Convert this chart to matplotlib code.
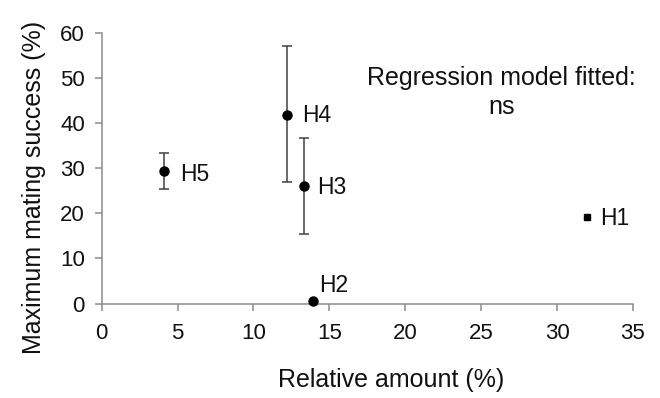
import numpy as np
import matplotlib.pyplot as plt

plt.rcParams['font.family'] = ['Liberation Sans', 'DejaVu Sans']

# data
names = ['H1', 'H2', 'H3', 'H4', 'H5']
rel_amount = [31.95, 13.9, 13.3, 12.2, 4.1]
mating = [19.1, 0.5, 26.1, 41.9, 29.3]
err_low = [0.0, 0.0, 10.7, 14.9, 4.0]
err_high = [0.0, 0.0, 10.7, 15.2, 4.0]

fig = plt.figure(figsize=(6.6, 3.98), dpi=100)
ax = fig.add_axes([0.154, 0.2374, 0.805, 0.680])

grey = '#8c8c8c'
# H2..H5 with error bars, round markers
for i in range(1, 5):
    yerr = [[err_low[i]], [err_high[i]]] if err_low[i] > 0 else None
    ax.errorbar(rel_amount[i], mating[i], yerr=yerr, fmt='o', color='black',
                ms=6.5, ecolor='#404040', elinewidth=1.1, capsize=3.5, capthick=1.1,
                clip_on=False, zorder=3)
# H1 square marker
ax.plot(rel_amount[0], mating[0], 's', color='black', ms=4.5, zorder=3)

offsets = {'H1': (10, -1), 'H2': (5, 7), 'H3': (10, -1), 'H4': (11, -1), 'H5': (12, -2)}
for n, x, y in zip(names, rel_amount, mating):
    ax.annotate(n, (x, y), xytext=offsets[n], textcoords='offset points',
                fontsize=16.5, ha='left', va='baseline' if n == 'H2' else 'center',
                color='#111111')

ax.text(0.752, 0.78, 'Regression model fitted:\nns', transform=ax.transAxes,
        ha='center', va='center', fontsize=18, linespacing=1.3, color='#111111')

ax.set_xlim(0, 35)
ax.set_ylim(0, 60)
ax.set_xticks(np.arange(0, 36, 5))
ax.set_yticks(np.arange(0, 61, 10))
ax.spines['top'].set_visible(False)
ax.spines['right'].set_visible(False)
for s in ['left', 'bottom']:
    ax.spines[s].set_color(grey)
    ax.spines[s].set_linewidth(1.1)
ax.tick_params(axis='both', colors=grey, labelcolor='#111111', labelsize=16,
               length=5, width=1.1, direction='out')
ax.tick_params(axis='x', pad=9)
ax.tick_params(axis='y', pad=7)

ax.set_xlabel('Relative amount (%)', fontsize=18, color='#111111')
ax.set_ylabel('Maximum mating success (%)', fontsize=18, color='#111111')
ax.xaxis.set_label_coords(0.545, -0.24)
ax.yaxis.set_label_coords(-0.105, 0.43)

fig.savefig('out.png', dpi=100)
